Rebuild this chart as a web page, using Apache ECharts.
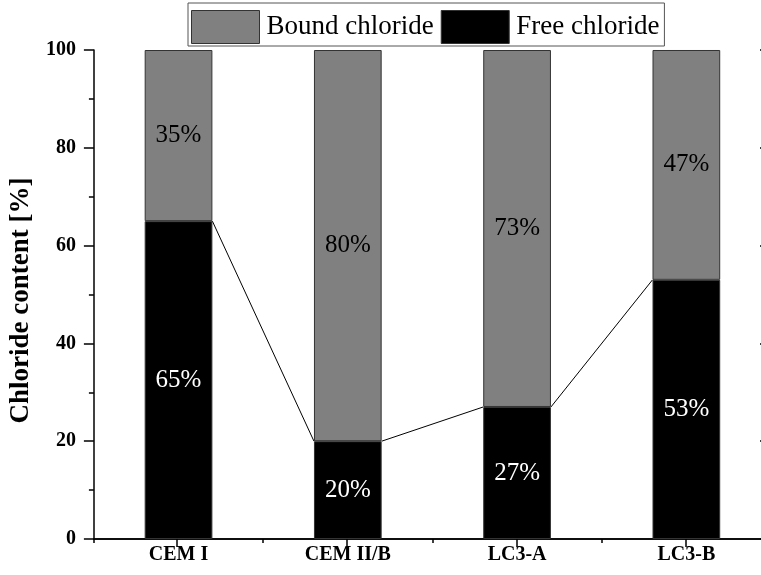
<!DOCTYPE html>
<html>
<head>
<meta charset="utf-8">
<script src="https://cdn.jsdelivr.net/npm/echarts@6/dist/echarts.min.js"></script>
<style>
  html, body { margin: 0; padding: 0; background: #fff; overflow: hidden; }
  #wrap { width: 761px; height: 575px; overflow: hidden; position: relative; }
  #chart { width: 772px; height: 575px; }
</style>
</head>
<body>
<div id="wrap"><div id="chart"></div></div>
<script>
// Chloride distribution per binder
const categories = ['CEM I', 'CEM II/B', 'LC3-A', 'LC3-B'];
const freeChloride = [65, 20, 27, 53];
const boundChloride = [35, 80, 73, 47];
const yTicks = [0, 20, 40, 60, 80, 100];

const FONT = '"Liberation Serif", "Times New Roman", serif';
const BAR_FRACTION = 0.4;

const chart = echarts.init(document.getElementById('chart'), null, { renderer: 'canvas' });

const gridRect = { left: 92, top: 50, bottom: 36, right: 1 };

// connector segments between neighbouring free-chloride bars
const connectorData = freeChloride.slice(0, -1).map((v, i) => [i, v, freeChloride[i + 1]]);

const option = {
  backgroundColor: '#fff',
  animation: false,
  textStyle: { fontFamily: FONT },
  legend: {
    top: 3,
    left: 188,
    padding: [7, 5, 2, 3],
    itemGap: 7,
    itemWidth: 68,
    itemHeight: 33,
    icon: 'rect',
    borderColor: '#555',
    borderWidth: 1,
    selectedMode: false,
    itemStyle: { borderColor: '#333', borderWidth: 1 },
    textStyle: { fontFamily: FONT, fontSize: 27, color: '#000', padding: [0, 0, 0, 2] },
    data: ['Bound chloride', 'Free chloride']
  },
  grid: [
    Object.assign({}, gridRect),
    Object.assign({}, gridRect)
  ],
  xAxis: [
    {
      type: 'category', gridIndex: 0, position: 'bottom', data: categories,
      axisLine: { lineStyle: { color: '#000', width: 1.5 } },
      axisTick: { show: true, alignWithLabel: false, length: 4, lineStyle: { color: '#000', width: 1.5 } },
      axisLabel: { color: '#000', fontFamily: FONT, fontWeight: 'bold', fontSize: 20, margin: 6 }
    },
    {
      type: 'category', gridIndex: 0, position: 'top', data: categories,
      axisLine: { lineStyle: { color: '#000', width: 1.5 } },
      axisTick: { show: true, inside: true, alignWithLabel: false, length: 4, lineStyle: { color: '#000', width: 1.5 } },
      axisLabel: { show: false }
    },
    {
      type: 'category', gridIndex: 1, position: 'bottom', data: categories,
      axisLine: { show: false },
      axisTick: { show: true, alignWithLabel: true, length: 8, lineStyle: { color: '#000', width: 1.5 } },
      axisLabel: { show: false }
    },
    {
      type: 'category', gridIndex: 1, position: 'top', data: categories,
      axisLine: { show: false },
      axisTick: { show: true, inside: true, alignWithLabel: true, length: 4, lineStyle: { color: '#000', width: 1.5 } },
      axisLabel: { show: false }
    }
  ],
  yAxis: [
    {
      type: 'value', gridIndex: 0, min: yTicks[0], max: yTicks[yTicks.length - 1], interval: 20,
      name: 'Chloride content [%]',
      nameLocation: 'middle',
      nameGap: 56,
      nameTextStyle: { fontFamily: FONT, fontWeight: 'bold', fontSize: 27, color: '#000', padding: [0, 12, 0, 0] },
      axisLine: { show: true, lineStyle: { color: '#000', width: 1.5 } },
      axisTick: { show: true, length: 10, lineStyle: { color: '#000', width: 1.5 } },
      minorTick: { show: true, splitNumber: 2, length: 5, lineStyle: { color: '#000', width: 1.5 } },
      splitLine: { show: false },
      axisLabel: { color: '#000', fontFamily: FONT, fontWeight: 'bold', fontSize: 20, margin: 18 }
    },
    {
      type: 'value', gridIndex: 0, position: 'right', min: 0, max: 100, interval: 20,
      axisLine: { show: true, lineStyle: { color: '#000', width: 1.5 } },
      axisTick: { show: true, inside: true, length: 11, lineStyle: { color: '#000', width: 1.5 } },
      splitLine: { show: false },
      axisLabel: { show: false }
    },
    {
      type: 'value', gridIndex: 1, min: 0, max: 100, show: false
    }
  ],
  series: [
    {
      name: 'Free chloride', type: 'bar', stack: 'total',
      xAxisIndex: 0, yAxisIndex: 0,
      barWidth: (BAR_FRACTION * 100) + '%',
      data: freeChloride,
      itemStyle: { color: '#000', borderColor: '#333', borderWidth: 1 },
      label: {
        show: true, position: 'inside', color: '#fff',
        fontFamily: FONT, fontSize: 25,
        formatter: p => p.value + '%'
      },
      z: 2
    },
    {
      name: 'Bound chloride', type: 'bar', stack: 'total',
      xAxisIndex: 0, yAxisIndex: 0,
      barWidth: (BAR_FRACTION * 100) + '%',
      data: boundChloride,
      itemStyle: { color: '#808080', borderColor: '#333', borderWidth: 1 },
      label: {
        show: true, position: 'inside', color: '#000',
        fontFamily: FONT, fontSize: 25,
        formatter: p => p.value + '%'
      },
      z: 2
    },
    {
      name: 'connector', type: 'custom',
      xAxisIndex: 0, yAxisIndex: 0,
      data: connectorData,
      renderItem: function (params, api) {
        const half = api.size([1, 0])[0] * BAR_FRACTION / 2;
        const a = api.coord([api.value(0), api.value(1)]);
        const b = api.coord([api.value(0) + 1, api.value(2)]);
        return {
          type: 'line',
          shape: { x1: a[0] + half, y1: a[1], x2: b[0] - half, y2: b[1] },
          style: { stroke: '#000', lineWidth: 1 }
        };
      },
      silent: true,
      z: 3
    }
  ]
};

chart.setOption(option);
</script>
</body>
</html>
